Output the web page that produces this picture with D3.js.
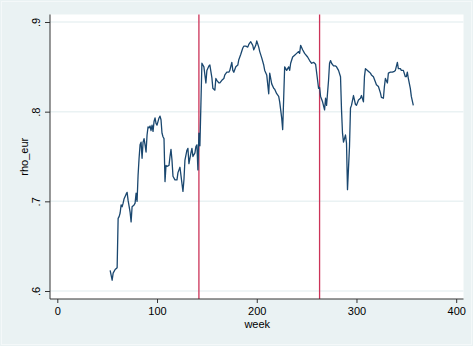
<!DOCTYPE html>
<html>
<head>
<meta charset="utf-8">
<script src="https://cdn.jsdelivr.net/npm/d3@7"></script>
<style>
  html, body { margin: 0; padding: 0; background: #eaf2f3; }
  svg { display: block; }
  text { font-family: "Liberation Sans", Arial, sans-serif; fill: #000; }
</style>
</head>
<body>
<svg id="chart" width="473" height="346"></svg>
<script>
// ---- data ----
const weeks = [53,55,56,58,60,61,62,63,64,65,66,67,69,70,71,73,74,75,77,78,79,80,81,82,83,84,85,86,87,88,89,90,91,92,93,94,95,96,97,98,99,100,102,103,104,105,106,107,108,109,110,112,113,114,115,116,118,120,121,123,124,126,127,128,130,131,132,134,135,136,138,139,140,141,142,143,145,146,147,149,150,152,153,155,156,158,159,160,162,163,165,167,168,170,172,173,175,176,177,179,181,182,184,186,187,189,191,192,194,196,197,199,200,202,203,205,207,208,210,212,213,215,217,218,220,222,223,225,226,227,228,230,232,233,234,236,238,240,242,243,244,246,248,251,253,255,257,259,261,262,263,264,266,268,269,270,272,273,274,275,277,279,280,282,284,285,286,287,289,290,291,293,294,295,297,299,300,302,304,305,307,308,309,311,313,314,315,317,319,320,322,324,325,327,328,329,331,332,334,336,338,339,341,342,344,345,347,349,350,351,352,354,355,357];
const rhoEur = [0.623,0.612,0.620,0.624,0.626,0.681,0.683,0.687,0.696,0.694,0.698,0.703,0.708,0.710,0.701,0.688,0.677,0.694,0.696,0.698,0.709,0.700,0.729,0.748,0.763,0.766,0.748,0.766,0.770,0.763,0.755,0.774,0.783,0.782,0.784,0.779,0.785,0.778,0.789,0.793,0.787,0.785,0.793,0.795,0.791,0.776,0.772,0.770,0.722,0.740,0.739,0.740,0.750,0.758,0.746,0.728,0.724,0.724,0.732,0.738,0.729,0.711,0.724,0.746,0.757,0.759,0.742,0.754,0.759,0.750,0.754,0.761,0.763,0.735,0.776,0.762,0.854,0.852,0.850,0.832,0.846,0.851,0.852,0.838,0.826,0.824,0.837,0.835,0.832,0.832,0.835,0.837,0.841,0.844,0.844,0.846,0.855,0.846,0.844,0.850,0.852,0.858,0.864,0.871,0.873,0.873,0.872,0.875,0.878,0.874,0.869,0.874,0.879,0.872,0.867,0.860,0.852,0.846,0.841,0.820,0.843,0.831,0.826,0.825,0.820,0.817,0.811,0.793,0.780,0.815,0.850,0.846,0.850,0.846,0.854,0.861,0.863,0.865,0.867,0.865,0.874,0.869,0.865,0.861,0.857,0.854,0.855,0.853,0.835,0.826,0.827,0.817,0.811,0.802,0.815,0.807,0.835,0.854,0.857,0.854,0.851,0.851,0.850,0.846,0.839,0.802,0.776,0.766,0.774,0.765,0.713,0.761,0.804,0.807,0.818,0.808,0.807,0.813,0.815,0.818,0.811,0.839,0.848,0.846,0.844,0.843,0.841,0.839,0.833,0.830,0.828,0.821,0.816,0.815,0.828,0.837,0.832,0.843,0.844,0.844,0.845,0.846,0.855,0.848,0.848,0.846,0.846,0.839,0.839,0.844,0.837,0.826,0.817,0.807];
const xTicks = [0, 100, 200, 300, 400];
const yTicks = [0.6, 0.7, 0.8, 0.9];
const yTickLabels = [".6", ".7", ".8", ".9"];
const xLines = [142, 263];
const xTitle = "week";
const yTitle = "rho_eur";

// ---- layout ----
const svg = d3.select("#chart");
const W = 473, H = 346;
const plot = { left: 50, right: 463.5, top: 14.5, bottom: 299 };
const bg = "#eaf2f3";

svg.append("rect").attr("x", 0).attr("y", 0).attr("width", W).attr("height", H).attr("fill", bg);
svg.append("rect").attr("x", 1.5).attr("y", 1.5).attr("width", W - 3).attr("height", H - 3)
  .attr("fill", "none").attr("stroke", "#f4f8f9").attr("stroke-width", 1);

const x = d3.scaleLinear().domain([0, 400]).range([57.3, 456.2]);
const y = d3.scaleLinear().domain([0.6, 0.9]).range([291, 22]);

// plot region
svg.append("rect")
  .attr("x", plot.left).attr("y", plot.top)
  .attr("width", plot.right - plot.left).attr("height", plot.bottom - plot.top)
  .attr("fill", "#ffffff");

// gridlines
svg.append("g").selectAll("line").data(yTicks).join("line")
  .attr("x1", plot.left).attr("x2", plot.right)
  .attr("y1", d => y(d)).attr("y2", d => y(d))
  .attr("stroke", bg).attr("stroke-width", 1.5);

// vertical reference lines
svg.append("g").selectAll("line").data(xLines).join("line")
  .attr("x1", d => x(d)).attr("x2", d => x(d))
  .attr("y1", plot.top).attr("y2", plot.bottom)
  .attr("stroke", "#cc3358").attr("stroke-width", 1.3);

// the series line
const pts = weeks.map((w, i) => [w, rhoEur[i]]);
svg.append("path")
  .datum(pts)
  .attr("fill", "none")
  .attr("stroke", "#1a476f")
  .attr("stroke-width", 1.3)
  .attr("stroke-linejoin", "round")
  .attr("d", d3.line().x(d => x(d[0])).y(d => y(d[1])));

// y axis
const yAxis = d3.axisLeft(y).tickValues(yTicks).tickFormat((d, i) => yTickLabels[i]).tickSize(5).tickSizeOuter(0);
const gy = svg.append("g").attr("transform", `translate(${plot.left},0)`).call(yAxis);
gy.select(".domain").remove();
gy.selectAll(".tick line").attr("stroke", "#333");
gy.selectAll(".tick text")
  .attr("font-size", 11)
  .attr("font-family", "'Liberation Sans', Arial, sans-serif")
  .attr("fill", "#000")
  .attr("text-anchor", "middle")
  .attr("dy", null)
  .attr("x", null)
  .attr("transform", "translate(-10,0) rotate(-90)")
  .attr("y", 0);
svg.append("line").attr("x1", plot.left).attr("x2", plot.left)
  .attr("y1", plot.top).attr("y2", plot.bottom)
  .attr("stroke", "#333").attr("stroke-width", 1);

// x axis
const xAxis = d3.axisBottom(x).tickValues(xTicks).tickFormat(d3.format("d")).tickSize(4).tickSizeOuter(0);
const gx = svg.append("g").attr("transform", `translate(0,${plot.bottom})`).call(xAxis);
gx.select(".domain").remove();
gx.selectAll(".tick line").attr("stroke", "#333");
gx.selectAll(".tick text")
  .attr("font-size", 11)
  .attr("font-family", "'Liberation Sans', Arial, sans-serif")
  .attr("fill", "#000")
  .attr("y", 8)
  .attr("dy", "0.71em");
svg.append("line").attr("x1", plot.left).attr("x2", plot.right)
  .attr("y1", plot.bottom).attr("y2", plot.bottom)
  .attr("stroke", "#333").attr("stroke-width", 1);

// titles
svg.append("text")
  .attr("x", (plot.left + plot.right) / 2 + 0.5).attr("y", 328)
  .attr("text-anchor", "middle").attr("font-size", 11)
  .text(xTitle);
svg.append("text")
  .attr("transform", `translate(27.5,${(plot.top + plot.bottom) / 2}) rotate(-90)`)
  .attr("text-anchor", "middle").attr("font-size", 11)
  .text(yTitle);
</script>
</body>
</html>
